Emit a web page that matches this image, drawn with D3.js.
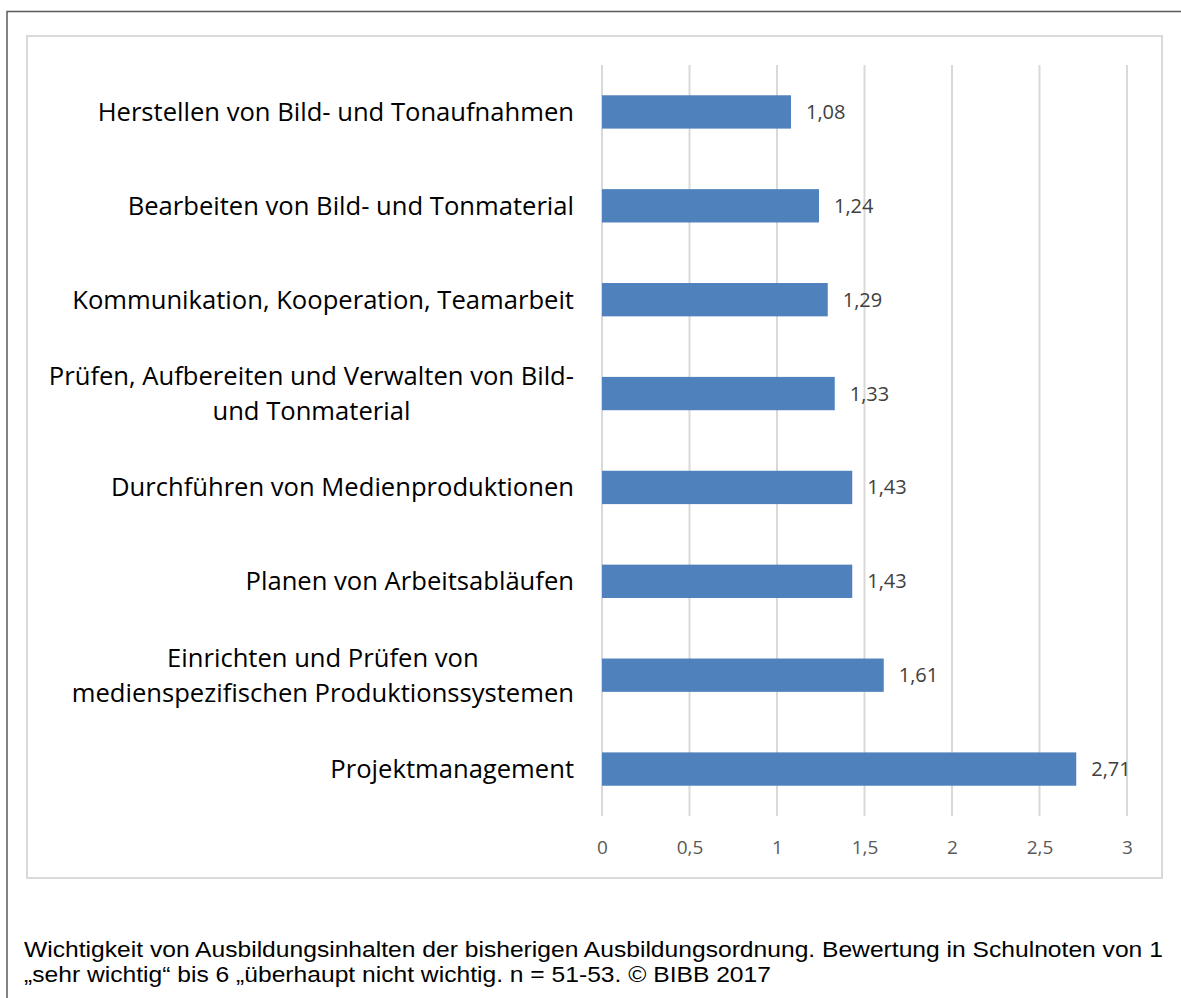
<!DOCTYPE html>
<html>
<head>
<meta charset="utf-8">
<script src="https://cdn.jsdelivr.net/npm/d3@7"></script>
<style>
  body { margin: 0; background: #fff; }
  svg { display: block; }
</style>
</head>
<body>
<svg id="chart"></svg>
<script>
const categories = [
  "Herstellen von Bild- und Tonaufnahmen",
  "Bearbeiten von Bild- und Tonmaterial",
  "Kommunikation, Kooperation, Teamarbeit",
  "Prüfen, Aufbereiten und Verwalten von Bild-|und Tonmaterial",
  "Durchführen von Medienproduktionen",
  "Planen von Arbeitsabläufen",
  "Einrichten und Prüfen von|medienspezifischen Produktionssystemen",
  "Projektmanagement"
];
const values = [1.08, 1.24, 1.29, 1.33, 1.43, 1.43, 1.61, 2.71];
const xTicks = [0, 0.5, 1, 1.5, 2, 2.5, 3];
const caption = [
  "Wichtigkeit von Ausbildungsinhalten der bisherigen Ausbildungsordnung. Bewertung in Schulnoten von 1",
  "„sehr wichtig“ bis 6 „überhaupt nicht wichtig. n = 51-53. © BIBB 2017"
];

const width = 1181, height = 998;
const plot = { left: 602, right: 1127, top: 65, bottom: 816 };
const labelFont = "'Open Sans', 'Noto Sans', sans-serif";
const fmt = (v) => String(v).replace(".", ",");

const svg = d3.select("#chart").attr("width", width).attr("height", height);

// outer frame (only top and left visible in the picture)
svg.append("path")
  .attr("d", `M7,${height} V11.5 H${width}`)
  .attr("fill", "none")
  .attr("stroke", "#595959")
  .attr("stroke-width", 1.5);

// chart area frame
svg.append("rect")
  .attr("x", 27).attr("y", 36)
  .attr("width", 1135).attr("height", 842)
  .attr("fill", "#fff")
  .attr("stroke", "#d9d9d9")
  .attr("stroke-width", 2);

const x = d3.scaleLinear().domain([0, 3]).range([plot.left, plot.right]);
const y = d3.scaleBand().domain(categories).range([plot.top, plot.bottom]).paddingInner(0.645).paddingOuter(0.3225);

// gridlines
svg.append("g")
  .selectAll("line")
  .data(xTicks)
  .join("line")
  .attr("x1", (d) => x(d)).attr("x2", (d) => x(d))
  .attr("y1", plot.top).attr("y2", plot.bottom)
  .attr("stroke", "#d9d9d9")
  .attr("stroke-width", 2);

// x tick labels
const xAxis = svg.append("g")
  .attr("transform", `translate(0, ${plot.bottom + 31})`)
  .call(d3.axisBottom(x).tickValues(xTicks).tickFormat(fmt).tickSize(0).tickPadding(0));
xAxis.select(".domain").remove();
xAxis.selectAll("text")
  .attr("fill", "#595959")
  .attr("font-family", labelFont)
  .attr("font-size", 19)
  .attr("dy", "0.35em");

// bars
svg.append("g")
  .selectAll("rect")
  .data(categories)
  .join("rect")
  .attr("x", x(0))
  .attr("y", (d) => y(d))
  .attr("width", (d, i) => x(values[i]) - x(0))
  .attr("height", y.bandwidth())
  .attr("fill", "#4f81bd");

// value labels
svg.append("g")
  .selectAll("text")
  .data(categories)
  .join("text")
  .attr("x", (d, i) => x(values[i]) + 15)
  .attr("y", (d) => y(d) + y.bandwidth() / 2)
  .attr("dy", "0.35em")
  .attr("fill", "#404040")
  .attr("font-family", labelFont)
  .attr("font-size", 20)
  .text((d, i) => fmt(values[i]));

// category labels: right aligned block, lines centred within it
const labelRight = 574;
const lineH = 35;
const catG = svg.append("g");
categories.forEach((c) => {
  const lines = c.split("|");
  const cy = y(c) + y.bandwidth() / 2;
  const t = catG.append("text")
    .attr("fill", "#000")
    .attr("font-family", labelFont)
    .attr("font-size", 25.6)
    .attr("text-anchor", "middle");
  const spans = lines.map((l, i) =>
    t.append("tspan")
      .attr("y", cy + (i - (lines.length - 1) / 2) * lineH)
      .attr("dy", "0.35em")
      .text(l)
  );
  const w = d3.max(spans, (s) => s.node().getComputedTextLength());
  spans.forEach((s) => s.attr("x", labelRight - w / 2));
});

// caption (slightly widened, like the source figure)
svg.append("g")
  .attr("transform", "translate(24, 0) scale(1.095, 1)")
  .selectAll("text")
  .data(caption)
  .join("text")
  .attr("x", 0)
  .attr("y", (d, i) => 957 + i * 25)
  .attr("fill", "#000")
  .attr("font-family", "'Liberation Sans', Arial, sans-serif")
  .attr("font-size", 22.5)
  .text((d) => d);
</script>
</body>
</html>
